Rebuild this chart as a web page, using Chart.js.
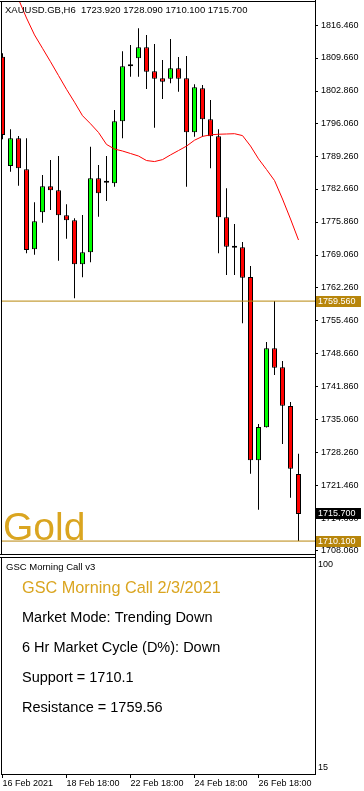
<!DOCTYPE html>
<html><head><meta charset="utf-8">
<script src="https://cdn.jsdelivr.net/npm/chart.js@4/dist/chart.umd.min.js"></script>
<style>
html,body{margin:0;padding:0;background:#fff;width:364px;height:791px;overflow:hidden}
canvas{position:absolute;left:0}
#c1{top:0}
#c2{top:556px}
</style></head><body>
<canvas id="c1" width="364" height="556"></canvas>
<canvas id="c2" width="364" height="235"></canvas>
<script>
// ---- data ----
const symbol = "XAUUSD.GB,H6";
const opens  = [1809.93,1787.40,1793.11,1786.72,1770.23,1777.86,1783.22,1782.39,1777.24,1776.21,1767.14,1769.61,1784.86,1783.96,1783.83,1796.61,1807.95,1809.60,1811.86,1806.92,1805.47,1805.39,1807.54,1805.47,1794.35,1803.41,1797.02,1793.52,1776.83,1770.56,1770.64,1764.52,1726.74,1733.55,1749.83,1745.91,1737.94,1723.92];
const highs  = [1810.63,1794.96,1793.58,1793.11,1779.92,1785.54,1788.64,1789.46,1779.51,1776.62,1777.30,1791.38,1787.61,1789.46,1798.94,1811.04,1812.34,1815.78,1814.40,1812.54,1809.25,1813.57,1809.86,1810.07,1804.24,1804.09,1801.00,1794.96,1782.80,1775.45,1771.74,1766.79,1734.23,1751.13,1759.56,1747.21,1738.76,1728.09];
const lows   = [1792.90,1786.23,1783.34,1769.41,1769.12,1775.71,1778.33,1767.88,1772.42,1760.13,1764.46,1767.55,1776.95,1780.19,1783.13,1793.11,1805.80,1805.80,1803.27,1795.29,1801.21,1804.44,1802.71,1783.13,1793.44,1793.44,1786.93,1769.41,1764.93,1764.93,1754.98,1723.98,1716.56,1733.50,1744.33,1730.10,1719.04,1710.10];
const closes = [1793.79,1793.11,1786.93,1770.09,1776.00,1783.22,1782.39,1777.24,1776.21,1767.14,1769.61,1784.86,1781.77,1783.96,1796.61,1807.95,1807.95,1811.86,1806.84,1805.39,1804.77,1807.54,1805.39,1794.35,1803.62,1797.02,1793.52,1776.83,1770.77,1770.56,1764.38,1726.74,1733.61,1749.83,1745.83,1738.00,1725.01,1715.70];
const maValues = [1828.8,1825.3,1821.8,1817.9,1814.42,1811.66,1808.90,1806.05,1803.21,1800.55,1797.77,1796.11,1794.32,1791.85,1790.90,1790.49,1789.98,1789.46,1788.53,1788.32,1788.72,1789.69,1790.59,1791.50,1792.72,1793.50,1793.83,1793.95,1794.00,1794.06,1793.67,1791.52,1788.88,1786.68,1784.41,1780.60,1776.48,1772.15];
const resistance = 1759.56;
const support = 1710.10;
const priceTicks = [1816.46,1809.66,1802.86,1796.06,1789.26,1782.66,1775.86,1769.06,1762.26,1755.46,1748.66,1741.86,1735.06,1728.26,1721.46,1714.66,1708.06];
const timeTickIndex = [0,8,16,24,32];
const timeTickLabels = ["16 Feb 2021","18 Feb 18:00","22 Feb 18:00","24 Feb 18:00","26 Feb 18:00"];
const chartLabel = "Gold";
const panelTitle = "GSC Morning Call v3";
const panelHeading = "GSC Morning Call 2/3/2021";
const panelLines = ["Market Mode: Trending Down","6 Hr Market Cycle (D%): Down","Support = 1710.1","Resistance = 1759.56"];
const panelTicks = [100, 15];

// ---- layout / style ----
const X_MIN = -0.1875, X_MAX = 39.0625;
const Y_MIN = 1707.23, Y_MAX = 1821.41;
const P_MIN = 12.358, P_MAX = 103.355;
const GOLD_LINE = '#B8860B';
const GOLD_TEXT = '#DAA520';
const FONT = 'Arial, "Liberation Sans", sans-serif';
const idx = opens.map((_, i) => i);
const last = opens.length - 1;

function hline(ctx, x1, x2, y){ ctx.beginPath(); ctx.moveTo(x1, y); ctx.lineTo(x2, y); ctx.stroke(); }
function vline(ctx, x, y1, y2){ ctx.beginPath(); ctx.moveTo(x, y1); ctx.lineTo(x, y2); ctx.stroke(); }

const mainPlugin = {
  id: 'mainDecor',
  afterDraw(chart){
    const ctx = chart.ctx, a = chart.chartArea, ys = chart.scales.y;
    ctx.save();
    ctx.strokeStyle = '#000'; ctx.lineWidth = 1;
    hline(ctx, 0, a.right, a.top + 0.5);
    vline(ctx, a.left + 0.5, a.top, a.bottom);
    hline(ctx, 0, a.right, a.bottom - 0.5);
    vline(ctx, a.right + 0.5, 0, chart.height);
    // header
    ctx.fillStyle = '#000';
    ctx.font = '9.5px ' + FONT;
    ctx.textBaseline = 'alphabetic'; ctx.textAlign = 'left';
    const hdr = symbol + '  ' + [opens[last], highs[last], lows[last], closes[last]].map(v => v.toFixed(3)).join(' ');
    ctx.fillText(hdr, 5, 12.5);
    // big label
    ctx.fillStyle = GOLD_TEXT;
    ctx.font = '39px ' + FONT;
    ctx.fillText(chartLabel, 3, 540);
    // price boxes
    const boxes = [[resistance, GOLD_LINE], [support, GOLD_LINE], [closes[last], '#000']];
    ctx.font = '9px ' + FONT;
    ctx.textBaseline = 'middle';
    for (const [v, bg] of boxes) {
      const y = ys.getPixelForValue(v);
      ctx.fillStyle = bg;
      ctx.fillRect(a.right + 1, Math.round(y - 5.5), 45, 11);
      ctx.fillStyle = '#fff';
      ctx.fillText(v.toFixed(3), a.right + 3, Math.round(y - 5.5) + 5.8);
    }
    ctx.restore();
  }
};

new Chart(document.getElementById('c1'), {
  type: 'bar',
  data: { datasets: [
    { type: 'line', data: [{x: X_MIN, y: resistance}, {x: X_MAX, y: resistance}], borderColor: GOLD_LINE, borderWidth: 1, pointRadius: 0, order: 0 },
    { type: 'line', data: [{x: X_MIN, y: support}, {x: X_MAX, y: support}], borderColor: GOLD_LINE, borderWidth: 1, pointRadius: 0, order: 0 },
    { type: 'line', data: idx.map(i => ({x: i, y: maValues[i]})), borderColor: '#ff0000', borderWidth: 1, pointRadius: 0, tension: 0, order: 1 },
    { type: 'bar', data: idx.map(i => ({x: i, y: [opens[i], closes[i]]})),
      backgroundColor: idx.map(i => closes[i] >= opens[i] ? '#00ff00' : '#ff0000'),
      borderColor: '#000', borderWidth: 1, borderSkipped: false, barThickness: 5, grouped: false,
      minBarLength: 2, inflateAmount: 0, order: 2 },
    { type: 'bar', data: idx.map(i => ({x: i, y: [lows[i], highs[i]]})),
      backgroundColor: '#000', borderWidth: 0, barThickness: 1, grouped: false, inflateAmount: 0, order: 3 }
  ]},
  options: {
    responsive: false, animation: false, devicePixelRatio: 1, events: [],
    layout: { padding: { left: 1, top: 1, right: 0, bottom: 1 } },
    plugins: { legend: { display: false }, tooltip: { enabled: false } },
    scales: {
      x: { type: 'linear', min: X_MIN, max: X_MAX, offset: false, display: false },
      y: { type: 'linear', position: 'right', min: Y_MIN, max: Y_MAX,
        afterBuildTicks: s => { s.ticks = priceTicks.map(v => ({value: v})); },
        afterFit: s => { s.width = 49; s.paddingTop = 0; s.paddingBottom = 0; },
        ticks: { autoSkip: false, padding: 3, color: '#000', font: { family: FONT, size: 9 }, callback: v => Number(v).toFixed(3) },
        grid: { drawOnChartArea: false, drawTicks: true, tickLength: 3, color: '#000' },
        border: { display: true, color: '#000', width: 1 }
      }
    }
  },
  plugins: [mainPlugin]
});

const panelPlugin = {
  id: 'panelDecor',
  afterDraw(chart){
    const ctx = chart.ctx, a = chart.chartArea;
    ctx.save();
    ctx.strokeStyle = '#000'; ctx.lineWidth = 1;
    hline(ctx, 0, a.right, a.top + 0.5);
    vline(ctx, a.left + 0.5, a.top, a.bottom);
    vline(ctx, a.right + 0.5, 0, a.bottom);
    ctx.textAlign = 'left'; ctx.textBaseline = 'alphabetic';
    ctx.fillStyle = '#000';
    ctx.font = '9.5px ' + FONT;
    ctx.fillText(panelTitle, 6, 14);
    ctx.fillStyle = GOLD_TEXT;
    ctx.font = '16.25px ' + FONT;
    ctx.fillText(panelHeading, 22, 37);
    ctx.fillStyle = '#000';
    ctx.font = '14.5px ' + FONT;
    panelLines.forEach((t, k) => ctx.fillText(t, 22, 66 + 30 * k));
    ctx.restore();
  }
};

new Chart(document.getElementById('c2'), {
  type: 'line',
  data: { datasets: [{ data: [] }] },
  options: {
    responsive: false, animation: false, devicePixelRatio: 1, events: [],
    layout: { padding: { left: 1, top: 1, right: 0, bottom: 0 } },
    plugins: { legend: { display: false }, tooltip: { enabled: false } },
    scales: {
      x: { type: 'linear', min: X_MIN, max: X_MAX, position: 'bottom', offset: false,
        afterBuildTicks: s => { s.ticks = timeTickIndex.map(v => ({value: v})); },
        afterFit: s => { s.height = 17; s.paddingLeft = 0; s.paddingRight = 0; },
        ticks: { autoSkip: false, maxRotation: 0, minRotation: 0, align: 'start', padding: 0, color: '#000',
          font: { family: FONT, size: 9 }, callback: (v, i) => timeTickLabels[i] },
        grid: { drawOnChartArea: false, drawTicks: true, tickLength: 4, color: '#000' },
        border: { display: true, color: '#000', width: 1 }
      },
      y: { type: 'linear', position: 'right', min: P_MIN, max: P_MAX,
        afterBuildTicks: s => { s.ticks = panelTicks.map(v => ({value: v})); },
        afterFit: s => { s.width = 49; s.paddingTop = 0; s.paddingBottom = 0; },
        ticks: { autoSkip: false, padding: 3, color: '#000', font: { family: FONT, size: 9 }, callback: v => String(v) },
        grid: { drawOnChartArea: false, drawTicks: false, tickLength: 3, color: '#000' },
        border: { display: true, color: '#000', width: 1 }
      }
    }
  },
  plugins: [panelPlugin]
});
</script>
</body></html>
